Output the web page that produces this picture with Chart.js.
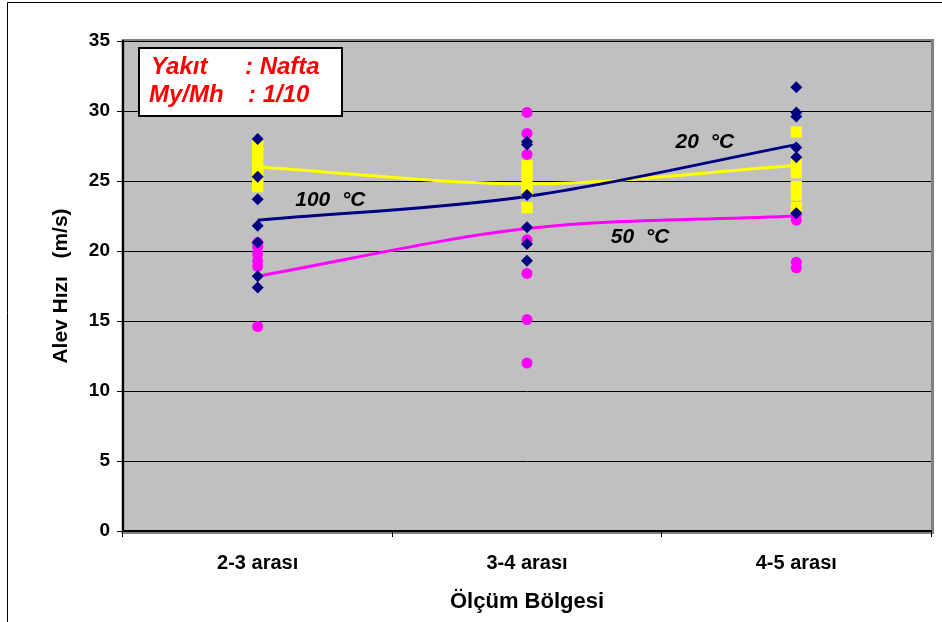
<!DOCTYPE html>
<html>
<head>
<meta charset="utf-8">
<script src="https://cdn.jsdelivr.net/npm/chart.js@4/dist/chart.umd.min.js"></script>
<style>
  html, body { margin: 0; padding: 0; background: #fff; }
  #wrap { position: relative; width: 942px; height: 622px; }
</style>
</head>
<body>
<div id="wrap"><canvas id="myChart" width="942" height="622"></canvas></div>
<script>
// categories on the x axis
const categories = ['2-3 arası', '3-4 arası', '4-5 arası'];

// measured points, one list per category (navy diamonds)
const t20Points = [
    [28.0, 25.3, 23.7, 21.8, 20.6, 18.2, 17.4],
    [27.8, 27.6, 24.0, 21.7, 20.5, 19.3],
    [31.7, 29.9, 29.6, 27.4, 26.7, 22.7]
];
// magenta circles
const t50Points = [
    [20.6, 20.3, 19.8, 19.3, 18.9, 14.6],
    [29.9, 28.4, 26.9, 20.8, 18.4, 15.1, 12.0],
    [22.6, 22.2, 19.2, 18.8]
];
// yellow squares
const t100Points = [
    [27.6, 27.0, 26.4, 25.8, 25.2, 24.6],
    [26.1, 25.5, 24.8, 24.3, 23.1],
    [28.5, 26.2, 25.6, 24.6, 24.0, 23.1]
];

// trend curves, one value per category
const t20Trend = [22.2, 23.9, 27.6];
const t50Trend = [18.2, 21.6, 22.5];
const t100Trend = [26.0, 24.8, 26.1];

// y axis
const yMin = 0, yMax = 35, yStep = 5;

// text on the chart
const infoLines = [['Yakıt', ': Nafta'], ['My/Mh', ': 1/10']];
const curveLabels = [
    { text: '20  °C', x: 1.66, y: 27.8 },
    { text: '100  °C', x: 0.27, y: 23.6 },
    { text: '50  °C', x: 1.42, y: 21.0 }
];

const FONT = '"Liberation Sans", Arial, sans-serif';

const toPoints = lists => {
    const out = [];
    lists.forEach((vals, i) => vals.forEach(v => out.push({ x: categories[i], y: v })));
    return out;
};
const toLine = vals => vals.map((v, i) => ({ x: categories[i], y: v }));

// grey plot area, frame and text boxes
const decor = {
    id: 'decor',
    beforeDraw(chart) {
        const { ctx, chartArea: a } = chart;
        ctx.save();
        ctx.fillStyle = '#fff';
        ctx.fillRect(0, 0, chart.width, chart.height);
        // outer frame
        ctx.strokeStyle = '#000';
        ctx.lineWidth = 1;
        ctx.beginPath();
        ctx.moveTo(7.5, chart.height);
        ctx.lineTo(7.5, 2.5);
        ctx.lineTo(chart.width, 2.5);
        ctx.stroke();
        // plot area
        ctx.fillStyle = '#C0C0C0';
        ctx.fillRect(a.left, a.top, a.right - a.left, a.bottom - a.top);
        ctx.strokeStyle = '#808080';
        ctx.lineWidth = 3;
        ctx.strokeRect(a.left, a.top - 0.5, a.right - a.left + 1.5, a.bottom - a.top + 2);
        ctx.restore();
    },
    afterDraw(chart) {
        const { ctx, chartArea: a, scales } = chart;
        ctx.save();
        // info box
        const bx = a.left + 16, by = a.top + 7;
        ctx.fillStyle = '#fff';
        ctx.fillRect(bx, by, 203, 68);
        ctx.strokeStyle = '#000';
        ctx.lineWidth = 2;
        ctx.strokeRect(bx, by, 203, 68);
        ctx.fillStyle = '#FF0000';
        ctx.font = 'italic bold 24px ' + FONT;
        ctx.textBaseline = 'alphabetic';
        ctx.textAlign = 'left';
        ctx.fillText(infoLines[0][0], bx + 12, by + 26);
        ctx.fillText(infoLines[0][1], bx + 106, by + 26);
        ctx.fillText(infoLines[1][0], bx + 10, by + 54);
        ctx.fillText(infoLines[1][1], bx + 109, by + 54);
        // curve labels
        ctx.fillStyle = '#000';
        ctx.font = 'italic bold 21px ' + FONT;
        ctx.textAlign = 'center';
        ctx.textBaseline = 'middle';
        curveLabels.forEach(l => {
            ctx.fillText(l.text, scales.x.getPixelForValue(l.x), scales.y.getPixelForValue(l.y));
        });
        ctx.restore();
    }
};

const pointSet = (data, style, color, radius) => ({
    type: 'line',
    data: toPoints(data),
    showLine: false,
    pointStyle: style,
    pointRadius: radius,
    pointHoverRadius: radius,
    pointBackgroundColor: color,
    pointBorderColor: color,
    pointBorderWidth: 0
});
const trendSet = (data, color) => ({
    type: 'line',
    data: toLine(data),
    borderColor: color,
    borderWidth: 3,
    pointRadius: 0,
    cubicInterpolationMode: 'monotone',
    fill: false
});

const ctx = document.getElementById('myChart').getContext('2d');
const chart = new Chart(ctx, {
    type: 'line',
    data: {
        labels: categories,
        datasets: [
            pointSet(t20Points, 'rectRot', '#000080', 6),
            pointSet(t50Points, 'circle', '#FF00FF', 5.5),
            pointSet(t100Points, 'rect', '#FFFF00', 8),
            trendSet(t20Trend, '#000080'),
            trendSet(t50Trend, '#FF00FF'),
            trendSet(t100Trend, '#FFFF00')
        ]
    },
    options: {
        responsive: false,
        animation: false,
        devicePixelRatio: 1,
        layout: { padding: { top: 41, right: 11, left: 0, bottom: 0 } },
        plugins: { legend: { display: false }, tooltip: { enabled: false } },
        scales: {
            x: {
                type: 'category',
                offset: true,
                grid: {
                    offset: true,
                    drawOnChartArea: false,
                    color: '#000',
                    tickLength: 6
                },
                border: { color: '#000', width: 2 },
                ticks: {
                    color: '#000',
                    font: { family: FONT, size: 20, weight: 'bold' },
                    padding: 14
                },
                title: {
                    display: true,
                    text: 'Ölçüm Bölgesi',
                    color: '#000',
                    font: { family: FONT, size: 22, weight: 'bold' },
                    padding: { top: 0, bottom: 7 }
                },
                afterFit: s => { s.height = 91; }
            },
            y: {
                min: yMin,
                max: yMax,
                grid: { color: '#000', lineWidth: 1, tickLength: 6 },
                border: { color: '#000', width: 2 },
                ticks: {
                    stepSize: yStep,
                    color: '#000',
                    font: { family: FONT, size: 19, weight: 'bold' },
                    padding: 7
                },
                title: {
                    display: true,
                    text: 'Alev Hızı   (m/s)',
                    color: '#000',
                    font: { family: FONT, size: 21, weight: 'bold' },
                    padding: { top: 49, bottom: 0 }
                },
                afterFit: s => { s.width = 123; }
            }
        }
    },
    plugins: [decor]
});
</script>
</body>
</html>
